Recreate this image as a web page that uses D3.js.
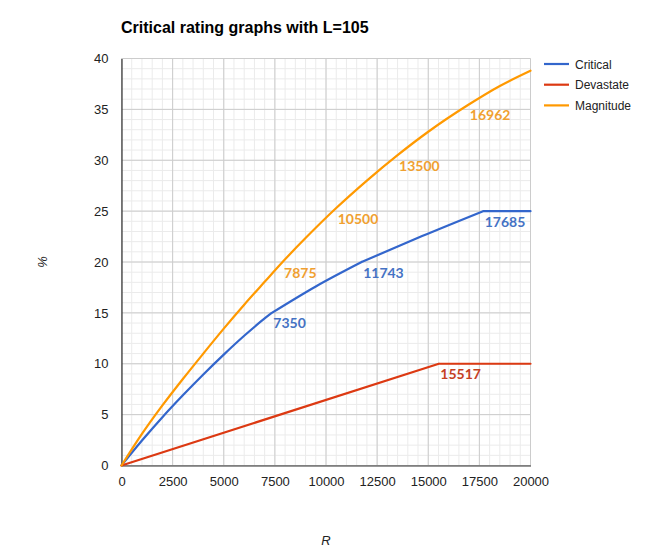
<!DOCTYPE html>
<html>
<head>
<meta charset="utf-8">
<script src="https://cdn.jsdelivr.net/npm/d3@7"></script>
<style>
  html, body { margin: 0; padding: 0; background: #fff; }
  svg { display: block; }
</style>
</head>
<body>
<svg id="chart" width="650" height="560"></svg>
<script>
// ---- Data ----
const title = "Critical rating graphs with L=105";
const seriesNames = ["Critical", "Devastate", "Magnitude"];

const criticalR   = [0, 1000, 2000, 3000, 4000, 5000, 6000, 7000, 7350, 9500, 11743, 14700, 17685, 20000];
const criticalPct = [0, 2.45, 4.75, 6.9, 8.95, 10.9, 12.75, 14.45, 15, 17.6, 20, 22.55, 25, 25];

const devastateR   = [0, 15517, 20000];
const devastatePct = [0, 10, 10];

const magnitudeR   = [0, 1000, 2000, 3000, 4000, 5000, 6000, 7000, 7875, 9000, 10500, 12000, 13500, 15000, 16962, 18500, 20000];
const magnitudePct = [0, 3.1, 5.9, 8.5, 11.0, 13.45, 15.8, 18.05, 20.0, 22.35, 25.3, 28.0, 30.5, 32.8, 35.45, 37.3, 38.8];

const criticalMarks  = [7350, 11743, 17685];
const devastateMarks = [15517];
const magnitudeMarks = [7875, 10500, 13500, 16962];

const xTicks = [0, 2500, 5000, 7500, 10000, 12500, 15000, 17500, 20000];
const yTicks = [0, 5, 10, 15, 20, 25, 30, 35, 40];

const lineColors  = ["#3366cc", "#dc3912", "#ff9900"];
const labelColors = ["#4472c4", "#c5401f", "#f0a030"];

// ---- Layout ----
const svg = d3.select("#chart");
const x = d3.scaleLinear().domain([0, 20000]).range([121.5, 530.5]);
const y = d3.scaleLinear().domain([0, 40]).range([465.5, 58.5]);

// minor grid
const minorX = d3.range(0, 20001, 500);
const minorY = d3.range(0, 41, 1);
const grid = svg.append("g");
grid.selectAll(".mx").data(minorX).join("line")
  .attr("x1", d => x(d)).attr("x2", d => x(d))
  .attr("y1", y(0)).attr("y2", y(40))
  .attr("stroke", "#ebebeb").attr("stroke-width", 1);
grid.selectAll(".my").data(minorY).join("line")
  .attr("x1", x(0)).attr("x2", x(20000))
  .attr("y1", d => y(d)).attr("y2", d => y(d))
  .attr("stroke", "#ebebeb").attr("stroke-width", 1);
// major grid
grid.selectAll(".Mx").data(xTicks).join("line")
  .attr("x1", d => x(d)).attr("x2", d => x(d))
  .attr("y1", y(0)).attr("y2", y(40))
  .attr("stroke", "#cccccc").attr("stroke-width", 1);
grid.selectAll(".My").data(yTicks).join("line")
  .attr("x1", x(0)).attr("x2", x(20000))
  .attr("y1", d => y(d)).attr("y2", d => y(d))
  .attr("stroke", "#cccccc").attr("stroke-width", 1);

// axes via d3 axis generators
const xAxis = svg.append("g").attr("transform", `translate(0,${y(0)})`)
  .call(d3.axisBottom(x).tickValues(xTicks).tickSize(0).tickPadding(11).tickFormat(d3.format("d")));
xAxis.select(".domain").attr("stroke", "#333").attr("stroke-width", 1.2);
xAxis.selectAll("text").attr("font-family", "Arial, 'Liberation Sans', sans-serif")
  .attr("font-size", 13).attr("fill", "#222");

const yAxis = svg.append("g").attr("transform", `translate(${x(0)},0)`)
  .call(d3.axisLeft(y).tickValues(yTicks).tickSize(0).tickPadding(13).tickFormat(d3.format("d")));
yAxis.select(".domain").attr("stroke", "#333").attr("stroke-width", 1.2);
yAxis.selectAll("text").attr("font-family", "Arial, 'Liberation Sans', sans-serif")
  .attr("font-size", 13).attr("fill", "#222");

// lines
const series = [
  { r: criticalR,  p: criticalPct,  marks: criticalMarks,  split: true },
  { r: devastateR, p: devastatePct, marks: devastateMarks, split: true },
  { r: magnitudeR, p: magnitudePct, marks: magnitudeMarks, split: false }
];
const lineGen = d3.line().x(d => x(d[0])).y(d => y(d[1])).curve(d3.curveMonotoneX);
series.forEach((s, i) => {
  const pts = s.r.map((r, k) => [r, s.p[k]]);
  // split into pieces at the marked break points (corners stay sharp)
  const pieces = [];
  let cur = [];
  pts.forEach(pt => {
    cur.push(pt);
    if (s.split && s.marks.includes(pt[0])) { pieces.push(cur); cur = [pt]; }
  });
  if (cur.length > 1) pieces.push(cur);
  const d = pieces.map(pc => lineGen(pc)).join("");
  svg.append("path")
    .attr("d", d)
    .attr("fill", "none")
    .attr("stroke", lineColors[i])
    .attr("stroke-width", 2.2)
    .attr("stroke-linejoin", "round")
    .attr("stroke-linecap", "round");
  // annotation labels
  s.marks.forEach(m => {
    const k = s.r.indexOf(m);
    const v = s.p[k];
    svg.append("text")
      .attr("x", x(m) + 1.5)
      .attr("y", y(v) + 15.5)
      .attr("font-family", "Lato, 'Open Sans', sans-serif")
      .attr("font-weight", "bold")
      .attr("font-size", 14)
      .attr("fill", labelColors[i])
      .text(m);
  });
});

// title
svg.append("text")
  .attr("x", 121).attr("y", 33)
  .attr("font-family", "Arial, 'Liberation Sans', sans-serif")
  .attr("font-weight", "bold").attr("font-size", 16)
  .attr("fill", "#000")
  .text(title);

// legend
const legend = svg.append("g");
seriesNames.forEach((n, i) => {
  const ly = 64 + i * 20.7;
  legend.append("line")
    .attr("x1", 544).attr("x2", 569).attr("y1", ly).attr("y2", ly)
    .attr("stroke", lineColors[i]).attr("stroke-width", 2.2);
  legend.append("text")
    .attr("x", 575).attr("y", ly + 4.5)
    .attr("font-family", "Arial, 'Liberation Sans', sans-serif")
    .attr("font-size", 12).attr("fill", "#222")
    .text(n);
});

// axis titles
svg.append("text")
  .attr("x", (x(0) + x(20000)) / 2).attr("y", 545)
  .attr("text-anchor", "middle")
  .attr("font-family", "Arial, 'Liberation Sans', sans-serif")
  .attr("font-style", "italic").attr("font-size", 13).attr("fill", "#222")
  .text("R");
svg.append("text")
  .attr("transform", "translate(47,262) rotate(-90)")
  .attr("text-anchor", "middle")
  .attr("font-family", "Arial, 'Liberation Sans', sans-serif")
  .attr("font-style", "italic").attr("font-size", 13).attr("fill", "#222")
  .text("%");
</script>
</body>
</html>
